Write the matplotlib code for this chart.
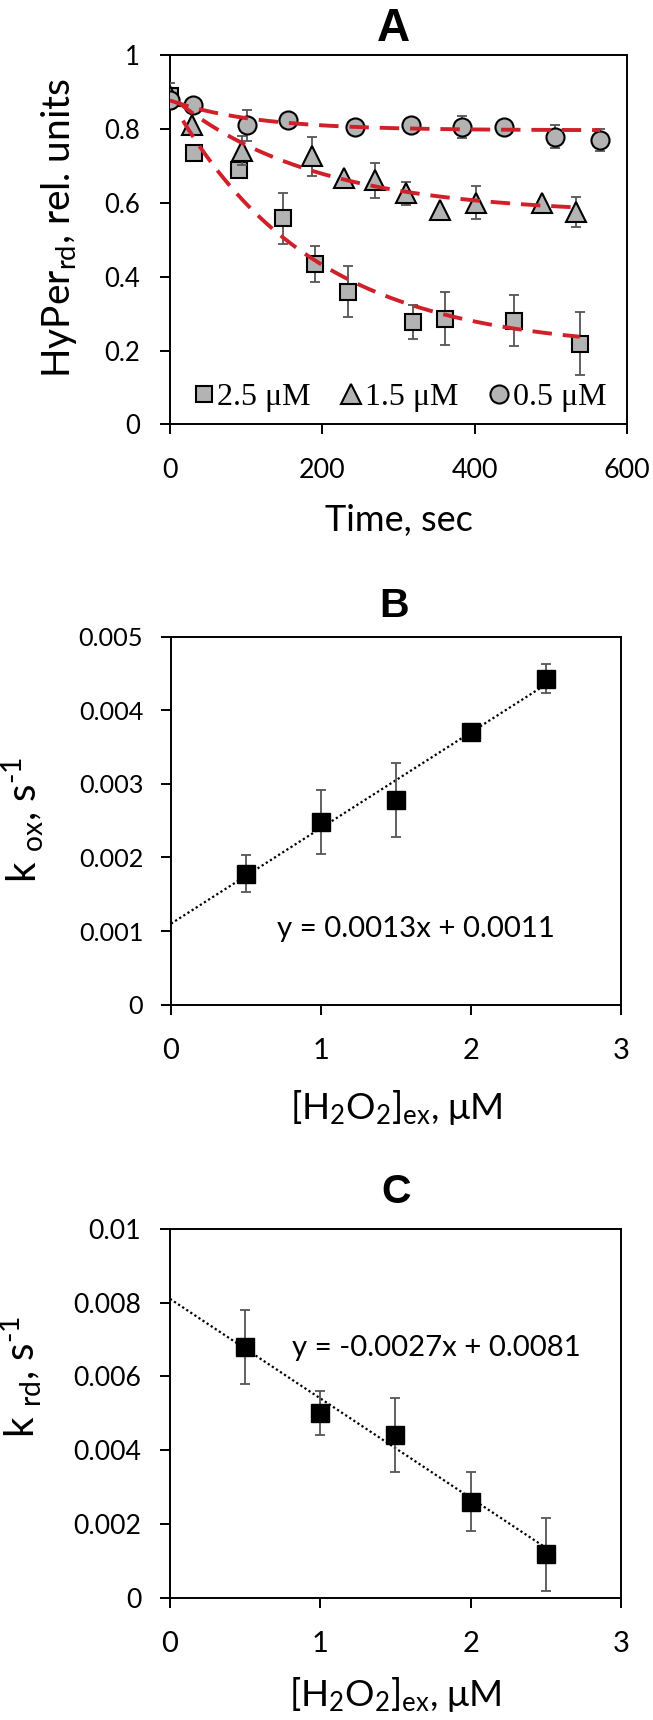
import matplotlib
matplotlib.use("Agg")
import matplotlib.pyplot as plt
import numpy as np

plt.rcParams["font.family"] = ["Lato", "DejaVu Sans"]
plt.rcParams["mathtext.fontset"] = "custom"
plt.rcParams["mathtext.rm"] = "Lato"
plt.rcParams["mathtext.it"] = "Lato:italic"
plt.rcParams["mathtext.bf"] = "Lato:bold"
plt.rcParams["mathtext.default"] = "regular"

# ---- Panel A: HyPer reduction kinetics ----
sq_t = [0, 32, 91, 148, 191, 234, 319, 361, 452, 538]
sq_y = [0.889, 0.736, 0.688, 0.558, 0.434, 0.360, 0.277, 0.286, 0.281, 0.219]
sq_err = [0.02, 0.0, 0.0, 0.07, 0.048, 0.070, 0.046, 0.072, 0.070, 0.086]

tri_t = [0, 29, 95, 186, 228, 269, 310, 355, 402, 488, 533]
tri_y = [0.890, 0.812, 0.742, 0.726, 0.667, 0.661, 0.626, 0.581, 0.601, 0.599, 0.576]
tri_err = [0.035, 0.0, 0.04, 0.054, 0.0, 0.047, 0.032, 0.0, 0.044, 0.0, 0.041]

cir_t = [0, 30, 101, 155, 243, 317, 383, 438, 505, 564]
cir_y = [0.880, 0.866, 0.810, 0.824, 0.807, 0.812, 0.807, 0.807, 0.780, 0.771]
cir_err = [0.0, 0.0, 0.042, 0.0, 0.0, 0.0, 0.03, 0.0, 0.03, 0.03]

legend_labels = ["2.5 \u03bcM", "1.5 \u03bcM", "0.5 \u03bcM"]

# exponential fits: plateau + amp * exp(-rate * t)
fit_plateau = [0.20, 0.57, 0.797]
fit_amp = [0.683, 0.321, 0.081]
fit_rate = [0.0054, 0.0054, 0.009]
fit_start = [17, 10, 0]
fit_end = [538, 528, 565]

a_xticks = [0, 200, 400, 600]
a_yticks = [0, 0.2, 0.4, 0.6, 0.8, 1.0]
a_yticklabels = ["0", "0.2", "0.4", "0.6", "0.8", "1"]

# ---- Panel B: k_ox vs [H2O2] ----
conc = [0.5, 1.0, 1.5, 2.0, 2.5]
kox = [0.00178, 0.00248, 0.00278, 0.00371, 0.00443]
kox_err = [0.00025, 0.00043, 0.0005, 0.0001, 0.0002]
kox_slope, kox_icpt = 0.0013, 0.0011
b_yticks = [0, 0.001, 0.002, 0.003, 0.004, 0.005]
b_yticklabels = ["0", "0.001", "0.002", "0.003", "0.004", "0.005"]

# ---- Panel C: k_rd vs [H2O2] ----
krd = [0.00680, 0.00500, 0.00441, 0.00260, 0.00117]
krd_err = [0.001, 0.0006, 0.001, 0.0008, 0.001]
krd_slope, krd_icpt = -0.0027, 0.0081
c_yticks = [0, 0.002, 0.004, 0.006, 0.008, 0.01]
c_yticklabels = ["0", "0.002", "0.004", "0.006", "0.008", "0.01"]

conc_ticks = [0, 1, 2, 3]

gray = "#b3b3b3"
ebar = "#555555"
red = "#d0202a"

fig = plt.figure(figsize=(6.53, 17.2), dpi=100)
axA = fig.add_axes([0.2603, 0.7533, 0.6998, 0.2145])
axB = fig.add_axes([0.2619, 0.4159, 0.6891, 0.2140])
axC = fig.add_axes([0.2603, 0.0712, 0.6907, 0.2144])


def style_axes(ax, xfs, yfs, xpad, ypad):
    for s in ax.spines.values():
        s.set_linewidth(1.4)
        s.set_color("black")
    ax.tick_params(direction="out", length=7, width=1.4)
    ax.tick_params(axis="x", pad=xpad, labelsize=xfs)
    ax.tick_params(axis="y", pad=ypad, labelsize=yfs)


# panel A
series = [(sq_t, sq_y, sq_err, "s", 12), (tri_t, tri_y, tri_err, "^", 14),
          (cir_t, cir_y, cir_err, "o", 13)]
handles = []
for i, (t, y, e, m, ms) in enumerate(series):
    axA.errorbar(t, y, yerr=e, fmt="none", ecolor=ebar, elinewidth=1.3,
                 capsize=3.5, capthick=1.3, zorder=2 + i)
    h, = axA.plot(t, y, ls="none", marker=m, ms=ms, mfc=gray, mec="black",
                  mew=1.5, zorder=3 + i)
    handles.append(h)
for i in range(3):
    tt = np.linspace(fit_start[i], fit_end[i], 200)
    axA.plot(tt, fit_plateau[i] + fit_amp[i] * np.exp(-fit_rate[i] * tt),
             color=red, lw=2.8, ls=(0, (5, 2.8)), zorder=10)

axA.set_xlim(0, 600)
axA.set_ylim(0, 1)
axA.set_xticks(a_xticks)
axA.set_yticks(a_yticks)
axA.set_yticklabels(a_yticklabels)
style_axes(axA, 19.4, 18.5, 17, 14.4)
axA.set_xlabel("Time, sec", fontsize=26, va="baseline")
axA.xaxis.set_label_coords(0.5, -0.29)
axA.set_ylabel("HyPer$_{rd}$, rel. units", fontsize=28, va="baseline")
axA.yaxis.set_label_coords(-0.219, 0.531)
axA.legend(handles, legend_labels, loc="center left",
           bbox_to_anchor=(0.0525, 0.074), ncol=3, frameon=False,
           prop={"family": "Liberation Serif", "size": 23},
           handlelength=0.6, handletextpad=0.125, columnspacing=0.97,
           borderpad=0, borderaxespad=0)

# panel B
xx = np.linspace(0, 2.5, 50)
axB.plot(xx, kox_slope * xx + kox_icpt, color="black", lw=1.6,
         ls=(0, (1, 1.2)), zorder=2)
axB.errorbar(conc, kox, yerr=kox_err, fmt="none", ecolor=ebar, elinewidth=1.3,
             capsize=3.5, capthick=1.3, zorder=3)
axB.plot(conc, kox, ls="none", marker="s", ms=13, color="black", zorder=4)
axB.set_xlim(0, 3)
axB.set_ylim(0, 0.005)
axB.set_xticks(conc_ticks)
axB.set_yticks(b_yticks)
axB.set_yticklabels(b_yticklabels)
style_axes(axB, 21, 18.2, 17, 13)
axB.text(0.2356, 0.183, "y = 0.0013x + 0.0011", transform=axB.transAxes,
         ha="left", va="baseline", fontsize=21.2)
axB.set_xlabel("[H$_2$O$_2$]$_{ex}$, \u03bcM", fontsize=26.5, va="baseline")
axB.xaxis.set_label_coords(0.5, -0.31)
axB.set_ylabel(r"k $_{ox}$, s$^{\text{-1}}$", fontsize=29, va="baseline")
axB.yaxis.set_label_coords(-0.2985, 0.503)

# panel C
axC.plot(xx, krd_slope * xx + krd_icpt, color="black", lw=1.6,
         ls=(0, (1, 1.2)), zorder=2)
axC.errorbar(conc, krd, yerr=krd_err, fmt="none", ecolor=ebar, elinewidth=1.3,
             capsize=3.5, capthick=1.3, zorder=3)
axC.plot(conc, krd, ls="none", marker="s", ms=13, color="black", zorder=4)
axC.set_xlim(0, 3)
axC.set_ylim(0, 0.01)
axC.set_xticks(conc_ticks)
axC.set_yticks(c_yticks)
axC.set_yticklabels(c_yticklabels)
style_axes(axC, 21, 19.2, 17, 13.7)
axC.text(0.2705, 0.654, "y = -0.0027x + 0.0081", transform=axC.transAxes,
         ha="left", va="baseline", fontsize=21.2)
axC.set_xlabel("[H$_2$O$_2$]$_{ex}$, \u03bcM", fontsize=26.5, va="baseline")
axC.xaxis.set_label_coords(0.5, -0.295)
axC.set_ylabel(r"k $_{rd}$, s$^{\text{-1}}$", fontsize=29, va="baseline")
axC.yaxis.set_label_coords(-0.299, 0.599)

# panel letters
title_kw = dict(ha="center", va="baseline", fontweight="bold",
                family="Liberation Sans")
fig.text(0.603, 0.9762, "A", fontsize=33, **title_kw)
fig.text(0.603, 0.6411, "B", fontsize=29.5, **title_kw)
fig.text(0.606, 0.3006, "C", fontsize=29.5, **title_kw)

fig.savefig("out.png", dpi=100)
